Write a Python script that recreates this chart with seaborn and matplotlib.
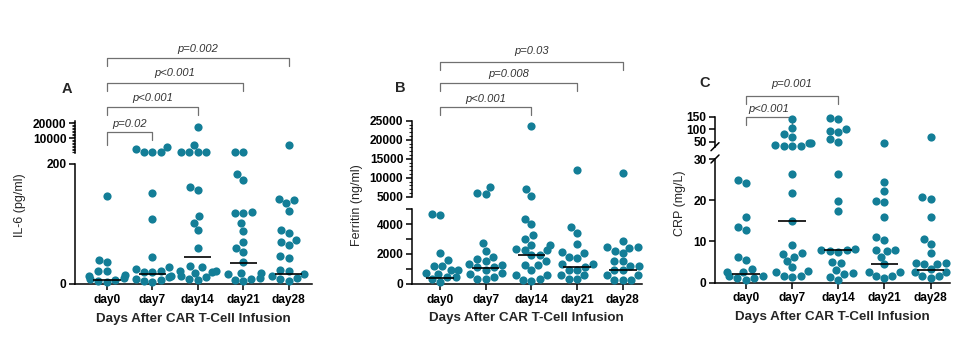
import numpy as np
import pandas as pd
import matplotlib
matplotlib.use("Agg")
import matplotlib.pyplot as plt
import seaborn as sns
from matplotlib.ticker import FixedLocator
from matplotlib.transforms import blended_transform_factory

# ---------------- data ----------------
days = ["day0", "day7", "day14", "day21", "day28"]

il6_day0 = [147, 40, 36, 22, 21, 15, 14, 10, 9, 6, 5, 3]
il6_day7 = [4400, 2670, 700, 670, 650, 152, 108, 45, 28, 25, 22, 20, 20, 13, 12, 9, 7, 5, 3]
il6_day14 = [17700, 5500, 720, 700, 680, 660, 162, 157, 113, 102, 90, 60, 30, 28, 22, 21,
             20, 19, 13, 11, 8, 6]
il6_day21 = [660, 640, 184, 174, 120, 119, 118, 102, 89, 70, 60, 53, 36, 19, 18, 16, 10,
             9, 7, 5]
il6_day28 = [5500, 142, 140, 135, 122, 90, 85, 73, 70, 65, 47, 43, 24, 22, 16, 14, 10, 8, 5]
il6_medians = [7, 16.5, 45, 35.5, 16.5]

ferritin_day0 = [4710, 4600, 2090, 1600, 1200, 1180, 930, 920, 700, 690, 450, 430, 300, 150]
ferritin_day7 = [7600, 5900, 5700, 2750, 2220, 1820, 1650, 1530, 1300, 1250, 1150, 1100,
                 950, 700, 680, 450, 350, 300]
ferritin_day14 = [23700, 6950, 5200, 4380, 4000, 3270, 2980, 2600, 2600, 2350, 2300, 2250,
                  1950, 1900, 1500, 1260, 1250, 920, 600, 580, 300, 250, 200]
ferritin_day21 = [12000, 3820, 3420, 2650, 2150, 2050, 1800, 1750, 1350, 1300, 1150, 930,
                  920, 600, 580, 300, 290]
ferritin_day28 = [11150, 2870, 2500, 2500, 2400, 2220, 2050, 1550, 1500, 1200, 1180, 950,
                  920, 600, 580, 280, 250, 230]
ferritin_medians = [410, 1090, 1930, 1150, 930]

crp_day0 = [24.8, 24.2, 15.8, 13.4, 12.8, 6.1, 5.5, 3.2, 2.6, 2.6, 1.7, 1.6, 1.1, 1.0, 0.7]
crp_day7 = [140, 104, 81, 70, 46, 45, 36, 33, 32, 33, 26.3, 21.8, 15, 9.1, 7.2, 7.0, 6.3,
            5.3, 3.7, 2.7, 2.5, 1.7, 1.5, 1.4]
crp_day14 = [146, 141, 100, 94, 90, 60, 50, 26.4, 19.7, 17.3, 8.2, 7.9, 7.8, 7.6, 7.5, 4.9,
             4.7, 3.0, 2.2, 2.1, 1.4, 0.6]
crp_day21 = [46, 24.3, 22.2, 19.7, 19.5, 15.9, 11.0, 10.3, 8.0, 7.9, 7.7, 6.3, 4.5, 2.6,
             2.5, 1.7, 1.6, 1.0]
crp_day28 = [70, 20.8, 20.3, 15.9, 10.6, 9.4, 7.2, 4.8, 4.7, 4.6, 4.5, 3.2, 2.6, 2.5, 1.7,
             1.6, 1.0]
crp_medians = [2.0, 15, 8, 4.4, 3.0]

il6_comparisons = [("day7", "p=0.02"), ("day14", "p<0.001"),
                   ("day21", "p<0.001"), ("day28", "p=0.002")]
ferritin_comparisons = [("day14", "p<0.001"), ("day21", "p=0.008"), ("day28", "p=0.03")]
crp_comparisons = [("day7", "p<0.001"), ("day14", "p=0.001")]

# ---------------- style ----------------
sns.set_theme(style="ticks")
plt.rcParams["font.family"] = ["Liberation Sans", "DejaVu Sans"]
plt.rcParams["axes.linewidth"] = 1.1

TEAL = "#137e97"
W, H = 977, 339
fig = plt.figure(figsize=(W / 100, H / 100), dpi=100)


def add_ax(x0, x1, ytop, ybot):
    return fig.add_axes([x0 / W, 1 - ybot / H, (x1 - x0) / W, (ybot - ytop) / H])


def fy(p):
    return 1 - p / H


def long_form(groups):
    return pd.DataFrame({
        "day": np.repeat(days, [len(g) for g in groups]),
        "value": np.concatenate([np.asarray(g, float) for g in groups]),
    })


def style_y(ax, major, labels, minor=None):
    ax.set_yticks(major, labels, fontweight="bold", fontsize=8.6)
    if minor is not None:
        ax.yaxis.set_minor_locator(FixedLocator(minor))
    ax.tick_params(axis="y", which="major", direction="out", length=4, width=1.1,
                   pad=2, colors="black")
    ax.tick_params(axis="y", which="minor", direction="out", length=2.5, width=0.8)


def panel(groups, medians, brk, cfg):
    df = long_form(groups)
    lo = df[df["value"] <= brk]
    hi = df[df["value"] > brk]
    x0, x1 = cfg["x"]
    ax_lo = add_ax(x0, x1, *cfg["lo_px"])
    ax_hi = add_ax(x0, x1, *cfg["hi_px"])
    for ax, sub, lim in ((ax_lo, lo, cfg["lo_lim"]), (ax_hi, hi, cfg["hi_lim"])):
        sns.swarmplot(data=sub, x="day", y="value", order=days, color=TEAL,
                      size=5.9, linewidth=0, ax=ax, warn_thresh=1)
        ax.set_xlim(*cfg["xlim"])
        ax.set_ylim(*lim)
        ax.set_xlabel("")
        ax.set_ylabel("")
        ax.set_facecolor("none")
        for c in ax.collections:
            c.set_clip_on(False)
        ax.spines["top"].set_visible(False)
        ax.spines["right"].set_visible(False)
        for s in ax.spines.values():
            s.set_color("black")
    # median bars
    pos = np.arange(len(days))
    ax_lo.hlines(medians, pos - 0.3, pos + 0.3, color="black", lw=1.2, zorder=4)
    ax_hi.spines["bottom"].set_visible(False)
    ax_hi.tick_params(axis="x", bottom=False, labelbottom=False)
    ax_lo.set_xticks(pos, days, fontweight="bold", fontsize=8.6)
    ax_lo.tick_params(axis="x", direction="out", length=4, width=1.1, pad=3,
                      colors="black")
    ax_lo.set_xlabel("Days After CAR T-Cell Infusion", fontweight="bold",
                     fontsize=9.6, labelpad=5)
    return ax_lo, ax_hi


def brackets(ax, comps, rows):
    tr = blended_transform_factory(ax.transData, fig.transFigure)
    for (target, label), (y_line, legs, y_txt) in zip(comps, rows):
        xa, xb = 0, days.index(target)
        ax.plot([xa, xa, xb, xb], [fy(y_line + legs[0]), fy(y_line), fy(y_line),
                                   fy(y_line + legs[1])],
                transform=tr, color="#707070", lw=0.9, clip_on=False)
        ax.text((xa + xb) / 2, fy(y_txt), label, transform=tr, ha="center",
                va="center", fontsize=8, style="italic", color="#333333")


# ---------------- panel A : IL-6 ----------------
cfgA = dict(x=(75, 312), xlim=(-0.705, 4.515),
            lo_px=(164, 284), lo_lim=(0, 200),
            hi_px=(121, 153), hi_lim=(200, 21500))
loA, hiA = panel([il6_day0, il6_day7, il6_day14, il6_day21, il6_day28], il6_medians,
                 200, cfgA)
style_y(loA, [0, 200], ["0", "200"])
style_y(hiA, [10000, 20000], ["10000", "20000"], minor=np.arange(1000, 21001, 1000))
brackets(hiA, il6_comparisons,
         [(132.3, (13, 8), 124.3), (107.3, (8, 8), 97.7),
          (82.7, (8, 8), 73.3), (58.3, (8, 8), 49)])
fig.text(20 / W, fy(205), "IL-6 (pg/ml)", rotation=90, ha="center", va="center",
         fontsize=9)
fig.text(67 / W, fy(89), "A", ha="center", va="center", fontsize=10.5,
         fontweight="bold")

# ---------------- panel B : Ferritin ----------------
cfgB = dict(x=(411.7, 642), xlim=(-0.62, 4.42),
            lo_px=(209.3, 283.8), lo_lim=(0, 5000),
            hi_px=(120.7, 196.7), hi_lim=(5000, 25000))
loB, hiB = panel([ferritin_day0, ferritin_day7, ferritin_day14, ferritin_day21,
                  ferritin_day28], ferritin_medians, 5000, cfgB)
style_y(loB, np.arange(0, 5001, 1000), ["0", "", "2000", "", "4000", ""])
style_y(hiB, np.arange(5000, 25001, 5000),
        ["5000", "10000", "15000", "20000", "25000"],
        minor=np.arange(6000, 25000, 1000))
brackets(hiB, ferritin_comparisons,
         [(107.3, (8, 8), 99), (83.3, (8, 8), 74.3), (61.7, (8, 8), 51)])
fig.text(357 / W, fy(205), "Ferritin (ng/ml)", rotation=90, ha="center", va="center",
         fontsize=9)
fig.text(400 / W, fy(88), "B", ha="center", va="center", fontsize=10.5,
         fontweight="bold")

# ---------------- panel C : CRP ----------------
cfgC = dict(x=(715, 950), xlim=(-0.67, 4.42),
            lo_px=(159, 282.5), lo_lim=(0, 30),
            hi_px=(116.7, 146.7), hi_lim=(30, 150))
loC, hiC = panel([crp_day0, crp_day7, crp_day14, crp_day21, crp_day28], crp_medians,
                 30, cfgC)
style_y(loC, [0, 10, 20, 30], ["0", "10", "20", "30"])
style_y(hiC, [50, 100, 150], ["50", "100", "150"])
brackets(hiC, crp_comparisons, [(117.3, (8, 8), 109.3), (96, (8, 8), 84)])
for yb in (146.7, 159):
    loC.plot([711 / W, 719 / W], [fy(yb + 4), fy(yb - 4)], transform=fig.transFigure,
             color="black", lw=1.1, clip_on=False)
fig.text(680 / W, fy(203), "CRP (mg/L)", rotation=90, ha="center", va="center",
         fontsize=9)
fig.text(705 / W, fy(83), "C", ha="center", va="center", fontsize=10.5,
         fontweight="bold")

fig.savefig("out.png", dpi=100, facecolor="white")
